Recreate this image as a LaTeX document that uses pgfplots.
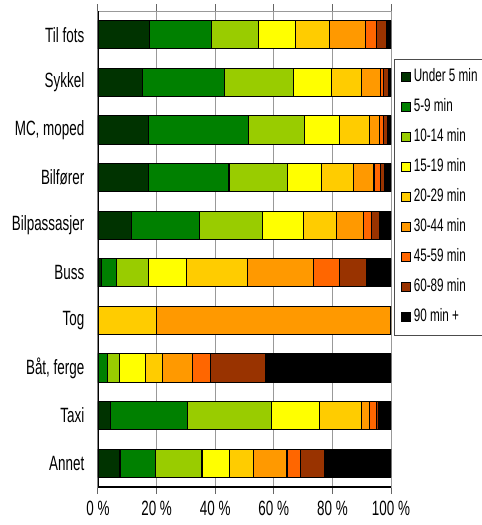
\documentclass[border=0pt]{standalone}
\usepackage{pgfplots}
\pgfplotsset{compat=1.18}
\usepackage{pgfplotstable}
\usepackage{fontspec}
\setmainfont{Liberation Sans}[FakeStretch=0.65]
\definecolor{cA}{HTML}{003300}
\definecolor{cB}{HTML}{008000}
\definecolor{cC}{HTML}{99CC00}
\definecolor{cD}{HTML}{FFFF00}
\definecolor{cE}{HTML}{FFCC00}
\definecolor{cF}{HTML}{FF9900}
\definecolor{cG}{HTML}{FF6600}
\definecolor{cH}{HTML}{993300}
\definecolor{cI}{HTML}{000000}
\pgfplotstableread{
idx u5 m5 m10 m15 m20 m30 m45 m60 m90
0 17.6 21.1 16.1 12.7 11.5 12.2 3.9 3.5 1.4
1 15.1 28.1 23.6 12.8 10.3 6.5 1.1 1.5 1.0
2 17.3 34.1 19.1 11.8 10.5 3.3 1.3 1.3 1.3
3 17.1 27.6 20.1 11.5 10.8 7.1 2.2 1.4 2.2
4 11.4 23.4 21.3 14.1 11.3 9.2 2.6 2.7 4.0
5 1.1 5.3 10.9 12.8 21.0 22.3 8.9 9.5 8.2
6 0 0 0 0 20.0 80.0 0 0 0
7 0 3.1 4.3 8.8 5.9 10.3 5.9 18.9 42.8
8 4.2 26.5 28.5 16.5 14.2 2.9 2.2 0.8 4.2
9 7.5 12.1 15.9 9.3 8.4 11.3 4.7 8.2 22.6
}\data
\begin{document}
\begin{tikzpicture}
\begin{axis}[
  at={(73.5pt,28.5pt)}, anchor=south west,
  scale only axis, width=219.75pt, height=357pt,
  xbar stacked, bar width=0.59,
  xmin=0, xmax=100, ymin=-0.5, ymax=9.5, y dir=reverse,
  xtick={0,20,40,60,80,100},
  xticklabel={\pgfmathprintnumber[assume math mode=true]{\tick} \%},
  ytick={0,...,9},
  yticklabels={Til fots,Sykkel,{MC, moped},Bilfører,Bilpassasjer,Buss,Tog,{Båt, ferge},Taxi,Annet},
  ticklabel style={font=\fontsize{15.5pt}{18pt}\selectfont},
  yticklabel style={xshift=-1.5pt},
  xticklabel style={yshift=-1.5pt},
  ytick style={draw=none},
  xtick style={draw=black!60, line width=0.75pt},
  tick align=outside, major tick length=5.25pt,
  xmajorgrids, grid style={gray!80, line width=0.75pt},
  axis line style={gray!80, line width=0.75pt},
  every axis plot/.append style={draw=black, line width=0.8pt},
  legend style={at={(rel axis cs:1,0.9)}, anchor=north west, xshift=2pt,
    draw=black!70, line width=0.6pt, inner sep=5pt,
    font=\fontsize{13.5pt}{16pt}\selectfont,
    row sep=5.5pt,
    nodes={inner sep=2pt, text height=10pt, text depth=3pt}},
  legend cell align=left,
  legend image code/.code={\draw[#1, line width=0.6pt] (0pt,-3.6pt) rectangle (7.2pt,3.6pt);},
]
\addplot[fill=cA] table[x=u5,y=idx]{\data};
\addplot[fill=cB] table[x=m5,y=idx]{\data};
\addplot[fill=cC] table[x=m10,y=idx]{\data};
\addplot[fill=cD] table[x=m15,y=idx]{\data};
\addplot[fill=cE] table[x=m20,y=idx]{\data};
\addplot[fill=cF] table[x=m30,y=idx]{\data};
\addplot[fill=cG] table[x=m45,y=idx]{\data};
\addplot[fill=cH] table[x=m60,y=idx]{\data};
\addplot[fill=cI] table[x=m90,y=idx]{\data};
\legend{Under 5 min,5-9 min,10-14 min,15-19 min,20-29 min,30-44 min,45-59 min,60-89 min,90 min +}
\draw[black, line width=0.9pt] (rel axis cs:0,1) -- (rel axis cs:0,0) -- (rel axis cs:1,0);
\end{axis}
\pgfresetboundingbox
\path[use as bounding box] (0pt,0pt) rectangle (361.5pt,393.75pt);
\end{tikzpicture}
\end{document}
